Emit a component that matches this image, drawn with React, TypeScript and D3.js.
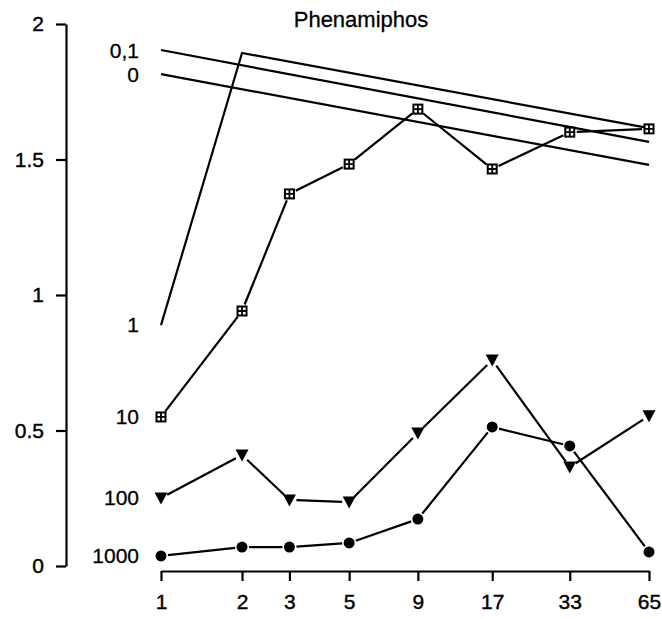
import React, { useEffect, useRef } from 'react';
import * as d3 from 'd3';

// days after treatment (x axis, log scale)
const days = [1, 2, 3, 5, 9, 17, 33, 65];
const dayTicks = ['1', '2', '3', '5', '9', '17', '33', '65'];
const yTicks = [0, 0.5, 1, 1.5, 2];

// plain lines (no markers)
const fitDays = [1, 65];
const conc01Values = [1.904, 1.565];
const conc0Values = [1.815, 1.48];
const conc1Days = [1, 2, 65];
const conc1Values = [0.889, 1.893, 1.616];

// marker series
const conc10Values = [0.55, 0.941, 1.373, 1.483, 1.686, 1.465, 1.601, 1.613];
const conc100Values = [0.251, 0.41, 0.244, 0.236, 0.491, 0.76, 0.365, 0.554];
const conc1000Values = [0.037, 0.07, 0.07, 0.085, 0.173, 0.513, 0.443, 0.052];

const lineLabels = ['0,1', '0', '1', '10', '100', '1000'];

const App = () => {
  const width = 662;
  const height = 619;
  const svgRef = useRef<SVGSVGElement | null>(null);

  useEffect(() => {
    const svg = d3.select(svgRef.current);
    svg.selectAll('*').remove();

    const x = d3.scaleLog().domain([1, 65]).range([161, 649]);
    const y = d3.scaleLinear().domain([0, 2]).range([566, 24]);
    const font = '"Liberation Sans", Arial, sans-serif';

    // y axis
    const yAxis = svg
      .append('g')
      .attr('transform', 'translate(66,0)')
      .call(
        d3.axisLeft(y).tickValues(yTicks).tickSize(10).tickSizeOuter(0).tickPadding(12)
          .tickFormat((d) => String(d))
      );
    yAxis.select('.domain').attr('stroke-width', 2.2);
    yAxis.selectAll('.tick line').attr('stroke-width', 2.2);
    yAxis.selectAll('.tick text')
      .style('font-family', font).style('font-size', '21px')
      .attr('fill', '#000').attr('stroke', '#000').attr('stroke-width', 0.4);

    // x axis
    const xAxis = svg
      .append('g')
      .attr('transform', 'translate(0,571)')
      .call(
        d3.axisBottom(x).tickValues(days).tickSize(10).tickSizeOuter(0).tickPadding(13)
          .tickFormat((d, i) => dayTicks[i])
      );
    xAxis.select('.domain').attr('stroke-width', 2.2);
    xAxis.selectAll('.tick line').attr('stroke-width', 2.2);
    xAxis.selectAll('.tick text')
      .style('font-family', font).style('font-size', '21px')
      .attr('fill', '#000').attr('stroke', '#000').attr('stroke-width', 0.4);

    // title
    svg
      .append('text')
      .attr('x', 361)
      .attr('y', 27)
      .attr('text-anchor', 'middle')
      .style('font-family', font)
      .style('font-size', '22px')
      .attr('stroke', '#000')
      .attr('stroke-width', 0.3)
      .text('Phenamiphos');

    const line = d3.line<[number, number]>().x((d) => x(d[0])).y((d) => y(d[1]));

    // plain lines
    const plain: [number[], number[]][] = [
      [fitDays, conc01Values],
      [fitDays, conc0Values],
      [conc1Days, conc1Values],
    ];
    plain.forEach(([xs, ys]) => {
      svg
        .append('path')
        .attr('d', line(xs.map((d, i) => [d, ys[i]] as [number, number])))
        .attr('fill', 'none')
        .attr('stroke', '#000')
        .attr('stroke-width', 2.2);
    });

    // marker series: segments stop short of the markers
    const gap = 7;
    const markerSeries = [conc10Values, conc100Values, conc1000Values];
    markerSeries.forEach((vals, si) => {
      const pts = days.map((d, i) => [x(d), y(vals[i])]);
      for (let i = 0; i < pts.length - 1; i++) {
        const [x0, y0] = pts[i];
        const [x1, y1] = pts[i + 1];
        const len = Math.hypot(x1 - x0, y1 - y0);
        const ux = (x1 - x0) / len;
        const uy = (y1 - y0) / len;
        svg
          .append('line')
          .attr('x1', x0 + ux * gap)
          .attr('y1', y0 + uy * gap)
          .attr('x2', x1 - ux * gap)
          .attr('y2', y1 - uy * gap)
          .attr('stroke', '#000')
          .attr('stroke-width', 2.2);
      }
      const g = svg.append('g');
      pts.forEach(([cx, cy]) => {
        if (si === 0) {
          g.append('rect')
            .attr('x', cx - 4.5)
            .attr('y', cy - 4.5)
            .attr('width', 9)
            .attr('height', 9)
            .attr('fill', '#fff')
            .attr('stroke', '#000')
            .attr('stroke-width', 2);
          g.append('path')
            .attr('d', `M${cx - 4.5},${cy}H${cx + 4.5}M${cx},${cy - 4.5}V${cy + 4.5}`)
            .attr('stroke', '#000')
            .attr('stroke-width', 1.8);
        } else if (si === 1) {
          g.append('path')
            .attr('d', `M${cx - 6.5},${cy - 5.5}L${cx + 6.5},${cy - 5.5}L${cx},${cy + 6.5}Z`)
            .attr('fill', '#000');
        } else {
          g.append('circle').attr('cx', cx).attr('cy', cy).attr('r', 5.5).attr('fill', '#000');
        }
      });
    });

    // concentration labels at the start of each line
    const starts = [conc01Values[0], conc0Values[0], conc1Values[0], conc10Values[0], conc100Values[0], conc1000Values[0]];
    const labelOffsets = [1, 1, 0, 0, 0, 0];
    svg
      .selectAll('text.conc')
      .data(lineLabels)
      .enter()
      .append('text')
      .attr('class', 'conc')
      .attr('x', 139)
      .attr('y', (d, i) => y(starts[i]) + labelOffsets[i])
      .attr('dy', '0.35em')
      .attr('text-anchor', 'end')
      .style('font-family', font)
      .style('font-size', '21px')
      .attr('stroke', '#000')
      .attr('stroke-width', 0.3)
      .text((d) => d);
  }, []);

  return (
    <svg
      ref={svgRef}
      width={width}
      height={height}
      style={{ position: 'absolute', left: 0, top: 0, background: '#fff' }}
    ></svg>
  );
};

export default App;
